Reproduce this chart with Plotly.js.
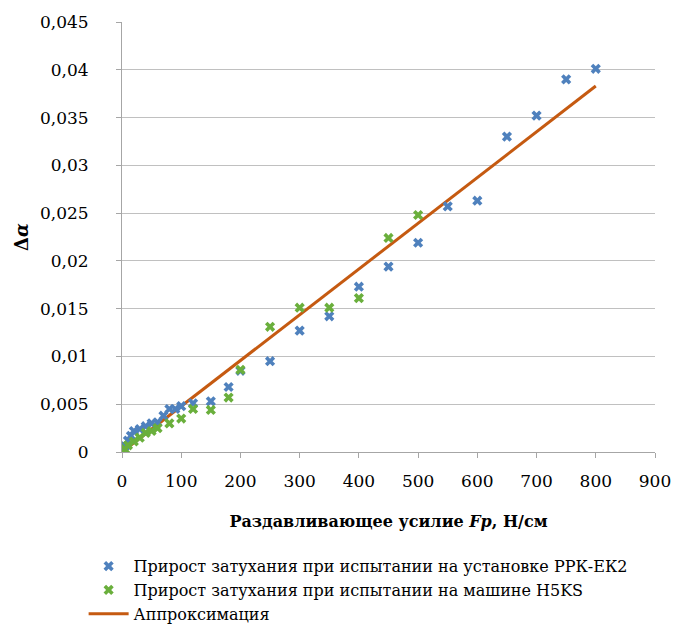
<!DOCTYPE html>
<html>
<head>
<meta charset="utf-8">
<script src="https://cdn.plot.ly/plotly-3.0.1.min.js"></script>
<style>html,body{margin:0;padding:0;background:#fff;}#chart{width:692px;height:633px;}</style>
</head>
<body>
<div id="chart"></div>
<script>
// Прирост затухания при испытании на установке РРК-ЕК2
const blueX = [5, 10, 15, 20, 30, 40, 50, 60, 70, 80, 90, 100, 120, 150, 180, 200, 250, 300, 350, 400, 450, 500, 550, 600, 650, 700, 750, 800];
const blueY = [0.0006, 0.0012, 0.0017, 0.0022, 0.0024, 0.0027, 0.003, 0.0031, 0.0038, 0.0045, 0.0045, 0.0048, 0.0051, 0.0053, 0.0068, 0.0085, 0.0095, 0.0127, 0.0142, 0.0173, 0.0194, 0.0219, 0.0257, 0.0263, 0.033, 0.0352, 0.039, 0.0401];
// Прирост затухания при испытании на машине H5KS
const greenX = [5, 10, 20, 30, 40, 50, 60, 80, 100, 120, 150, 180, 200, 250, 300, 350, 400, 450, 500];
const greenY = [0.0003, 0.0007, 0.0011, 0.0015, 0.002, 0.0022, 0.0025, 0.003, 0.0035, 0.0045, 0.0044, 0.0057, 0.0086, 0.0131, 0.0151, 0.0151, 0.0161, 0.0224, 0.0248];
// Аппроксимация
const approxX = [0, 800];
const approxY = [0, 0.0383];

const names = [
  'Прирост затухания при испытании на установке РРК-ЕК2',
  'Прирост затухания при испытании на машине H5KS',
  'Аппроксимация'
];
const xTicks = [0, 100, 200, 300, 400, 500, 600, 700, 800, 900];
const yTicks = [0, 0.005, 0.01, 0.015, 0.02, 0.025, 0.03, 0.035, 0.04, 0.045];
const yTickText = ['0', '0,005', '0,01', '0,015', '0,02', '0,025', '0,03', '0,035', '0,04', '0,045'];

const font = '"DejaVu Serif", "Liberation Serif", "Times New Roman", serif';

const traces = [
  {x: approxX, y: approxY, mode: 'lines', name: names[2],
   line: {color: '#c55a11', width: 3}, showlegend: false},
  {x: blueX, y: blueY, mode: 'markers', name: names[0],
   marker: {symbol: 'x', size: 9, color: '#4f81bd', line: {width: 0}}},
  {x: greenX, y: greenY, mode: 'markers', name: names[1],
   marker: {symbol: 'x', size: 9, color: '#6aaf3c', line: {width: 0}}},
  {x: [null], y: [null], mode: 'lines', name: names[2],
   line: {color: '#c55a11', width: 3}}
];

const layout = {
  width: 692, height: 633,
  margin: {l: 122, r: 37, t: 22, b: 181, autoexpand: false},
  paper_bgcolor: '#fff', plot_bgcolor: '#fff',
  font: {family: font, size: 17, color: '#000'},
  showlegend: true,
  legend: {x: -0.072, xanchor: 'left', y: -0.226, yanchor: 'top',
           font: {family: font, size: 16, color: '#000'},
           tracegroupgap: 0, itemwidth: 40, bgcolor: 'rgba(0,0,0,0)'},
  xaxis: {
    range: [0, 900], tickvals: xTicks, ticktext: xTicks.map(String),
    showgrid: false, zeroline: false, showline: true, linecolor: '#a6a6a6', linewidth: 1,
    ticks: 'outside', ticklen: 5, tickcolor: '#a6a6a6', ticklabelstandoff: 9,
    tickfont: {family: font, size: 17},
    title: {text: '<b>Раздавливающее усилие <i>Fp</i>, Н/см</b>', font: {family: font, size: 16}, standoff: 25}
  },
  yaxis: {
    range: [0, 0.045], tickvals: yTicks, ticktext: yTickText,
    showgrid: true, gridcolor: '#c0c0c0', gridwidth: 1,
    zeroline: false, showline: true, linecolor: '#a6a6a6', linewidth: 1,
    ticks: 'outside', ticklen: 5, tickcolor: '#a6a6a6', ticklabelstandoff: 24,
    tickfont: {family: font, size: 17},
    title: {text: '<b>Δ<i>α</i></b>', font: {family: font, size: 18}, standoff: 6}
  }
};

Plotly.newPlot('chart', traces, layout, {displayModeBar: false, staticPlot: true});
</script>
</body>
</html>
